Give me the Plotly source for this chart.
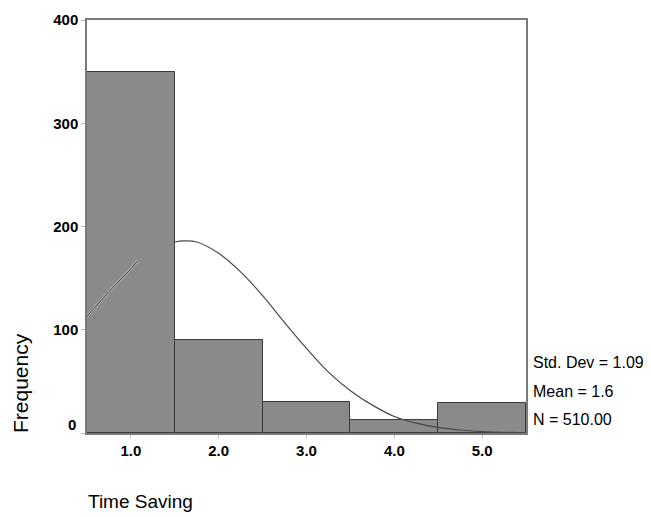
import plotly.graph_objects as go

# Histogram bins (Time Saving) and frequencies
categories = [1.0, 2.0, 3.0, 4.0, 5.0]
frequencies = [350, 90, 30, 13, 29]

# Normal curve overlay (two visible pieces)
curve_a_x = [0.5, 0.75, 1.0, 1.08]
curve_a_y = [113, 137, 159, 167]
curve_b_x = [1.5, 1.6, 1.75, 2.0, 2.25, 2.5, 2.75, 3.0, 3.25, 3.5, 3.75,
             4.0, 4.25, 4.5, 4.75, 5.0, 5.25, 5.5]
curve_b_y = [185, 186, 185, 174, 156, 133, 107, 82, 59, 41, 27,
             16, 9.5, 5.4, 2.9, 1.4, 0.6, 0.3]

x_tick_vals = [1, 2, 3, 4, 5]
x_tick_text = ["1.0", "2.0", "3.0", "4.0", "5.0"]
y_tick_vals = [0, 100, 200, 300, 400]
y_tick_text = ["", "100", "200", "300", "400"]   # "0" is drawn nudged up, as in the original

stats_lines = ["Std. Dev = 1.09", "Mean = 1.6", "N = 510.00"]

fig = go.Figure()
fig.add_trace(go.Bar(
    x=categories, y=frequencies, width=1.0,
    marker=dict(color="#8a8a8a", line=dict(color="#3a3a3a", width=1)),
    showlegend=False, hoverinfo="skip",
))
fig.add_trace(go.Scatter(
    x=curve_a_x, y=curve_a_y, mode="lines",
    line=dict(color="#aaaaaa", width=3), showlegend=False, hoverinfo="skip",
))
fig.add_trace(go.Scatter(
    x=curve_a_x, y=curve_a_y, mode="lines",
    line=dict(color="#444444", width=1), showlegend=False, hoverinfo="skip",
))
fig.add_trace(go.Scatter(
    x=curve_b_x, y=curve_b_y, mode="lines", line_shape="spline",
    line=dict(color="#4a4a4a", width=1.2), showlegend=False, hoverinfo="skip",
))

font_main = "Liberation Sans, Arial, sans-serif"

# page offset (browser body margin) is 8px
OFF = 8
W, H = 651, 517
l, r, t, b = 87 - OFF, 133, 20 - OFF, 92
pw, ph = W - l - r, H - t - b

def px(x):
    return (x - OFF - l) / pw

def py(y):
    return (H - b - (y - OFF)) / ph

tick_font = dict(size=15, family=font_main, color="#000", weight="bold")

fig.update_layout(
    width=W, height=H,
    margin=dict(l=l, r=r, t=t, b=b, autoexpand=False),
    paper_bgcolor="white", plot_bgcolor="white",
    bargap=0,
    font=dict(family=font_main, color="#111", size=12),
    xaxis=dict(
        range=[0.5, 5.5], tickvals=x_tick_vals, ticktext=x_tick_text,
        showgrid=False, zeroline=False, automargin=False,
        showline=True, mirror=True, linecolor="#7a7a7a", linewidth=1.5,
        ticks="outside", ticklen=3, tickcolor="#bbbbbb",
        tickfont=tick_font,
    ),
    yaxis=dict(
        range=[0, 400], tickvals=y_tick_vals, ticktext=y_tick_text,
        showgrid=False, zeroline=False, automargin=False,
        showline=True, mirror=True, linecolor="#7a7a7a", linewidth=1.5,
        ticks="outside", ticklen=4, tickcolor="#bbbbbb",
        tickfont=tick_font,
    ),
)

annotations = [
    dict(text="Frequency", x=px(20), y=py(383), xref="paper", yref="paper",
         showarrow=False, textangle=-90, font=dict(size=21, color="#000"),
         xanchor="center", yanchor="middle"),
    dict(text="Time Saving", x=px(86), y=py(501), xref="paper", yref="paper",
         showarrow=False, font=dict(size=19, color="#000"),
         xanchor="left", yanchor="middle"),
    dict(text="0", x=px(78), y=py(424), xref="paper", yref="paper",
         showarrow=False, font=tick_font, xanchor="right", yanchor="middle"),
]
for s, yy in zip(stats_lines, [362, 391, 419]):
    annotations.append(dict(text=s, x=px(531), y=py(yy), xref="paper", yref="paper",
                            showarrow=False, font=dict(size=16, color="#000"),
                            xanchor="left", yanchor="middle"))
fig.update_layout(annotations=annotations)

fig.write_html("out.html")
